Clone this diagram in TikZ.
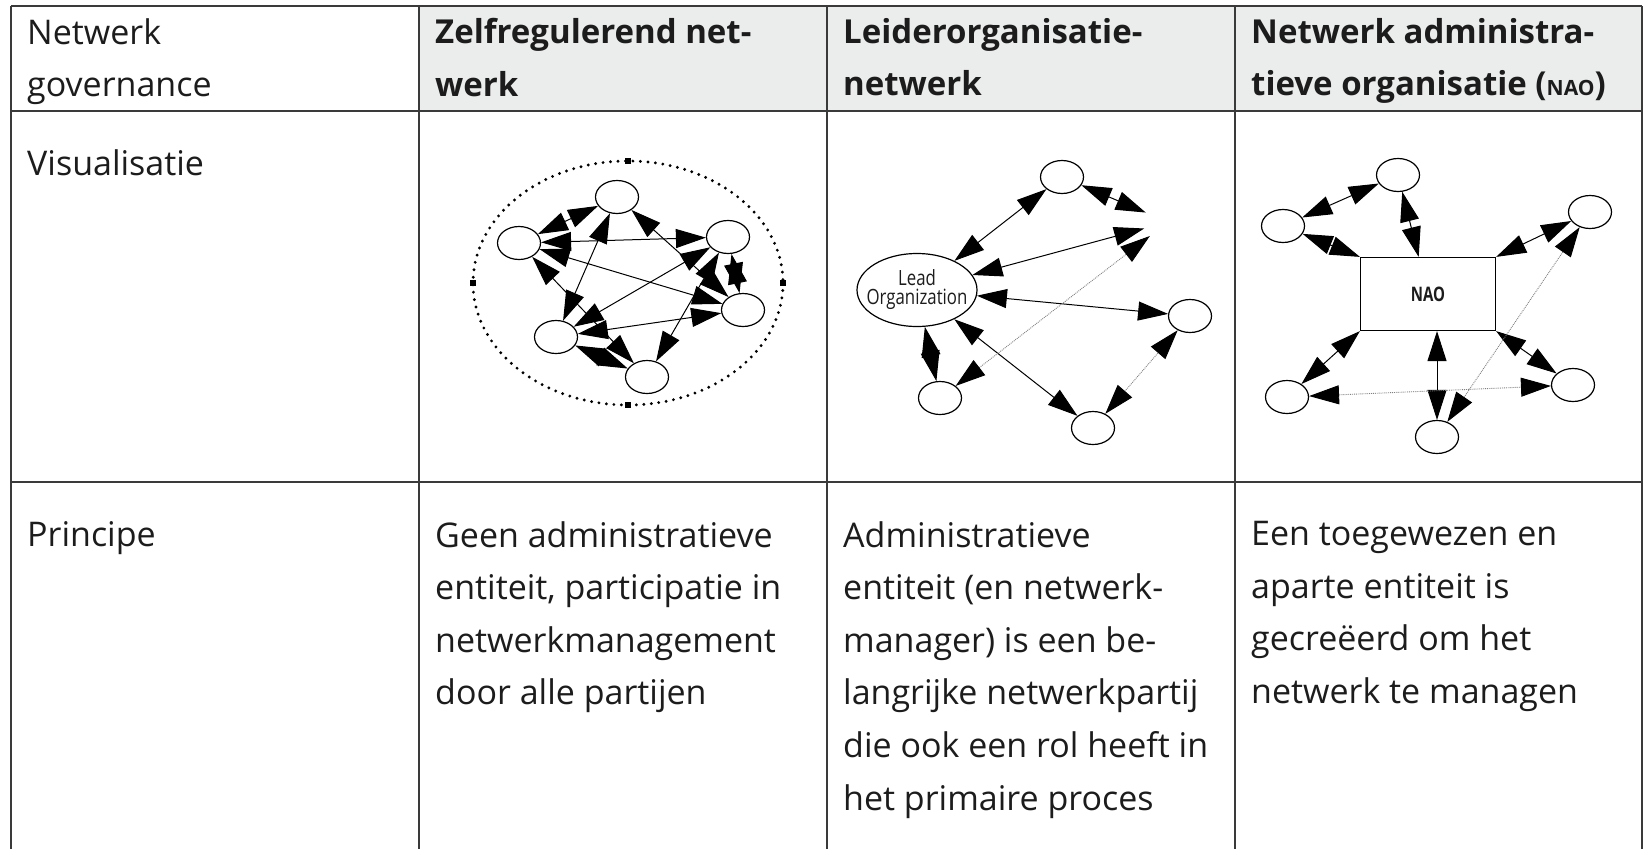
\documentclass[tikz,border=0pt]{standalone}
\usepackage{fontspec}
\usepackage{graphicx}
\setmainfont{Open Sans}
\usetikzlibrary{arrows.meta,shapes.geometric}

\definecolor{headgray}{HTML}{EBECEC}
\definecolor{rulegray}{HTML}{3A3A3A}
\definecolor{inkblack}{HTML}{1C1C1C}

\newcommand{\narrowline}[1]{\makebox[80pt]{\scalebox{0.8}[1]{#1}}}

\tikzset{
  cell/.style={anchor=north west, inner sep=0pt, align=left, text=inkblack,
    font=\fontsize{34}{52.6}\selectfont},
  headcell/.style={cell, font=\bfseries\fontsize{33}{52.6}\selectfont},
  party/.style={ellipse, draw, line width=1.2pt, minimum width=43pt,
    minimum height=33pt, inner sep=0pt},
  link/.style={line width=1pt,
    arrows={Triangle[length=30pt,width=19pt]-Triangle[length=30pt,width=19pt]}},
  weaklink/.style={line width=0.9pt, densely dotted, draw=gray,
    arrows={Triangle[length=30pt,width=19pt,color=black]-Triangle[length=30pt,width=19pt,color=black]}},
}

\begin{document}
\begin{tikzpicture}[x=1pt, y=-1pt]
  \useasboundingbox[fill=white] (0,0) rectangle (1645,849);

  % Table
  \fill[headgray] (419,6) rectangle (1642,111);
  \draw[rulegray, line width=1.5pt] (11,6) -- (1642,6);
  \draw[rulegray, line width=1.5pt] (11,111) -- (1642,111);
  \draw[rulegray, line width=1.5pt] (11,482) -- (1642,482);
  \foreach \x in {11,419,827,1235,1642}
    \draw[rulegray, line width=1.5pt] (\x,6) -- (\x,849);

  % Header row
  \node[cell] (h0) at (27,18) {Netwerk\\governance};
  \node[headcell] (h1) at (435,18) {Zelfregulerend net-\\werk};
  \node[headcell] (h2) at (843,18) {Leiderorganisatie-\\netwerk};
  \node[headcell] (h3) at (1251,18)
    {Netwerk administra-\\tieve organisatie ({\fontsize{21}{21}\selectfont NAO})};

  % Row labels
  \node[cell] (v0) at (27,149) {Visualisatie};
  \node[cell] (p0) at (27,521) {Principe};

  % Principe texts
  \node[cell] (p1) at (435,521)
    {Geen administratieve\\entiteit, participatie in\\netwerkmanagement\\door alle partijen};
  \node[cell] (p2) at (843,521)
    {Administratieve\\entiteit (en netwerk-\\manager) is een be-\\langrijke netwerkpartij\\die ook een rol heeft in\\het primaire proces};
  \node[cell] (p3) at (1251,521)
    {Een toegewezen en\\aparte entiteit is\\gecreëerd om het\\netwerk te managen};

  % Self-governed network
  \node[ellipse, minimum width=310pt, minimum height=244pt, inner sep=0pt] (ring) at (628,283) {};
  \draw[line width=3.2pt, dash pattern=on 0pt off 7.5pt, line cap=round]
    (628,283) ellipse [x radius=155, y radius=122];
  \foreach \a in {north,south,east,west}
    \fill (ring.\a) +(-2.8,-2.8) rectangle +(2.8,2.8);

  \node[party] (Z1) at (617,197) {};
  \node[party] (Z2) at (519,243) {};
  \node[party] (Z3) at (728,237) {};
  \node[party] (Z4) at (743,310) {};
  \node[party] (Z5) at (556,337) {};
  \node[party] (Z6) at (647,377) {};

  \draw[link] (Z1) -- (Z2);
  \draw[link] (Z1) -- (Z4);
  \draw[link] (Z1) -- (Z5);
  \draw[link] (Z2) -- (Z3);
  \draw[link] (Z2) -- (Z4);
  \draw[link] (Z2) -- (Z6);
  \draw[link] (Z3) -- (Z4);
  \draw[link] (Z3) -- (Z5);
  \draw[link] (Z3) -- (Z6);
  \draw[link] (Z4) -- (Z5);
  \draw[link] (Z5) -- (Z6);

  % Lead organization network
  \node[ellipse, draw, line width=1.2pt, minimum width=120pt, minimum height=73pt,
    inner sep=0pt, align=center, text=inkblack, font=\fontsize{21}{19}\selectfont]
    (L) at (917,290) {\narrowline{Lead}\\\narrowline{Organization}};
  \node[party] (L1) at (1062,177) {};
  \node[ellipse, minimum width=50pt, minimum height=40pt, inner sep=0pt] (L2) at (1168,222) {};
  \node[party] (L3) at (1190,316) {};
  \node[party] (L4) at (1093,428) {};
  \node[party] (L5) at (940,398) {};

  \draw[link] (L) -- (L1);
  \draw[link] (L1) -- (L2);
  \draw[link] (L) -- (L2);
  \draw[link] (L) -- (L3);
  \draw[link] (L) -- (L4);
  \draw[link] (L) -- (L5);
  \draw[weaklink] (L5) -- (L2);
  \draw[weaklink] (L4) -- (L3);

  % NAO network
  \node[draw, line width=1.2pt, minimum width=135pt, minimum height=73pt,
    inner sep=0pt, text=inkblack, font=\bfseries\fontsize{20}{20}\selectfont]
    (N) at (1428,294) {\scalebox{0.75}[1]{NAO}};
  \node[party] (N1) at (1398,175) {};
  \node[party] (N2) at (1283,226) {};
  \node[party] (N3) at (1590,212) {};
  \node[party] (N4) at (1287,397) {};
  \node[party] (N5) at (1437,437) {};
  \node[party] (N6) at (1573,385) {};

  \draw[link] (N1) -- (N2);
  \draw[link] (N1) -- (N);
  \draw[link] (N2) -- (N.north west);
  \draw[link] (N3) -- (N.north east);
  \draw[link] (N4) -- (N.south west);
  \draw[link] (N5) -- (N5 |- N.south);
  \draw[link] (N6) -- (N.south east);
  \draw[weaklink] (N4) -- (N6);
  \draw[weaklink] (N5) -- (N3);
\end{tikzpicture}
\end{document}
